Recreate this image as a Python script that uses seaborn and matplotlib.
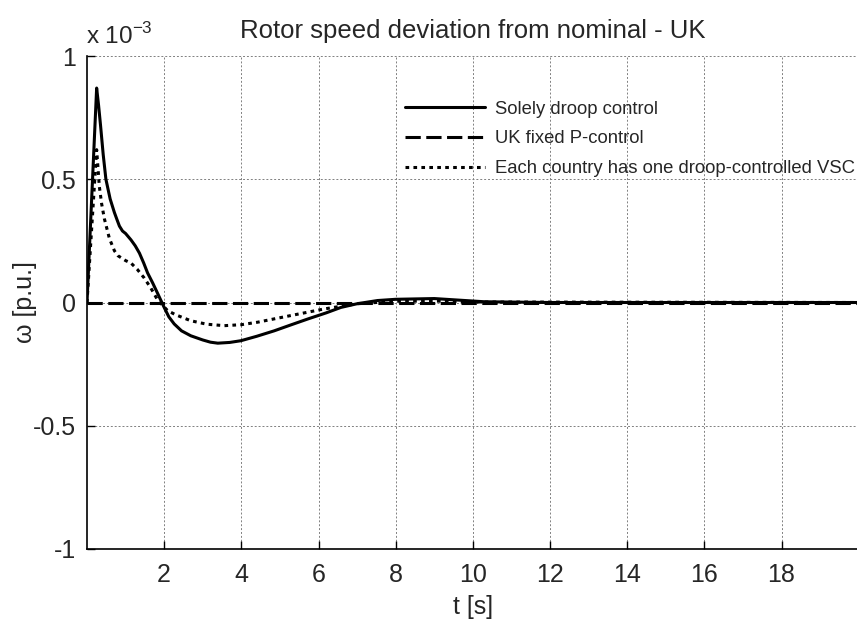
import numpy as np
import pandas as pd
import matplotlib
matplotlib.use("Agg")
import matplotlib.pyplot as plt
import seaborn as sns

# values in units of 1e-3 p.u.
t_droop = [0, 0.25, 0.30, 0.35, 0.42, 0.49, 0.6, 0.71, 0.78, 0.84, 0.92, 1.0, 1.14, 1.25, 1.36, 1.47, 1.57, 1.70,
           1.83, 2.0, 2.12, 2.26, 2.45, 2.69, 3.0, 3.2, 3.39, 3.7, 3.99, 4.4, 4.85, 5.3, 5.72, 6.2, 6.58,
           7.0, 7.53, 8.0, 9.0, 10.3, 12, 20]
w_droop = [0, 0.87, 0.80, 0.72, 0.60, 0.50, 0.42, 0.365, 0.335, 0.31, 0.29, 0.28, 0.254, 0.23, 0.20, 0.16, 0.12, 0.08,
           0.037, -0.02, -0.058, -0.087, -0.115, -0.135, -0.152, -0.161, -0.165, -0.162, -0.155, -0.137, -0.115, -0.09,
           -0.067, -0.042, -0.02, -0.005, 0.008, 0.013, 0.016, 0.003, 0, 0]

t_fixed = [0, 5, 10, 15, 20]
w_fixed = [0, 0, 0, 0, 0]

t_each = [0, 0.25, 0.32, 0.38, 0.45, 0.58, 0.71, 0.8, 0.9, 1.0, 1.14, 1.3, 1.48, 1.65, 1.83, 2.09, 2.3, 2.69,
          3.1, 3.56, 4.0, 4.42, 5.28, 6.15, 7.0, 8, 9, 10, 20]
w_each = [0, 0.62, 0.47, 0.40, 0.34, 0.26, 0.21, 0.19, 0.18, 0.17, 0.16, 0.135, 0.10, 0.06, 0.01, -0.033, -0.05,
          -0.074, -0.088, -0.094, -0.09, -0.08, -0.053, -0.026, -0.005, 0.005, 0.006, 0.002, 0]

labels = ["Solely droop control", "UK fixed P-control", "Each country has one droop-controlled VSC"]
x_ticks = [2, 4, 6, 8, 10, 12, 14, 16, 18]
y_ticks = [-1, -0.5, 0, 0.5, 1]
y_ticklabels = ["-1", "-0.5", "0", "0.5", "1"]

sns.set_theme(style="white")
plt.rcParams['font.family'] = ['Liberation Sans', 'DejaVu Sans']

fig = plt.figure(figsize=(8.57, 6.21), dpi=100)
top_px, bot_px, left_px = 56, 549, 87
ax_w_px = 857 - left_px
ax = fig.add_axes([left_px/857, 1 - bot_px/621, 1 - left_px/857 + 0.002, (bot_px - top_px)/621])

lw = 2.2
sns.lineplot(x=t_droop, y=w_droop, ax=ax, color="black", lw=lw, label=labels[0])
sns.lineplot(x=t_fixed, y=w_fixed, ax=ax, color="black", lw=lw, label=labels[1])
sns.lineplot(x=t_each, y=w_each, ax=ax, color="black", lw=lw, label=labels[2])
lines = ax.get_lines()
lines[1].set_dashes((5.0, 1.8))
lines[2].set_dashes((1.2, 1.4))

ax.set_xlim(0, 20)
ax.set_ylim(-1, 1)
ax.set_xticks(x_ticks)
ax.set_yticks(y_ticks)
ax.set_yticklabels(y_ticklabels)
ax.grid(True, color="#808080", linestyle=(0, (2, 2)), linewidth=0.7)
ax.tick_params(direction="in", length=6, width=1, labelsize=18, color="black",
               left=True, bottom=True)
ax.tick_params(axis="x", pad=10)
ax.tick_params(axis="y", pad=8)
for s in ["top", "right"]:
    ax.spines[s].set_visible(False)
for s in ["left", "bottom"]:
    ax.spines[s].set_color("black")
    ax.spines[s].set_linewidth(1.2)

ax.set_xlabel("t [s]", fontsize=18, labelpad=6)
ax.set_ylabel("ω [p.u.]", fontsize=18, va="center")
ax.yaxis.set_label_coords((25 - left_px) / ax_w_px, 0.5)
ax.set_title("Rotor speed deviation from nominal - UK", fontsize=18.5, pad=13)
fig.text(86/857, 1 - 36/621, r"x 10$^{\mathregular{-3}}$", fontsize=17.5, ha="left", va="center")

leg = ax.legend(loc="upper left", bbox_to_anchor=(0.403, 0.924), frameon=False, fontsize=13.3,
                handlelength=4.3, handletextpad=0.55, labelspacing=0.68, borderaxespad=0)

fig.savefig("out.png", dpi=100)
